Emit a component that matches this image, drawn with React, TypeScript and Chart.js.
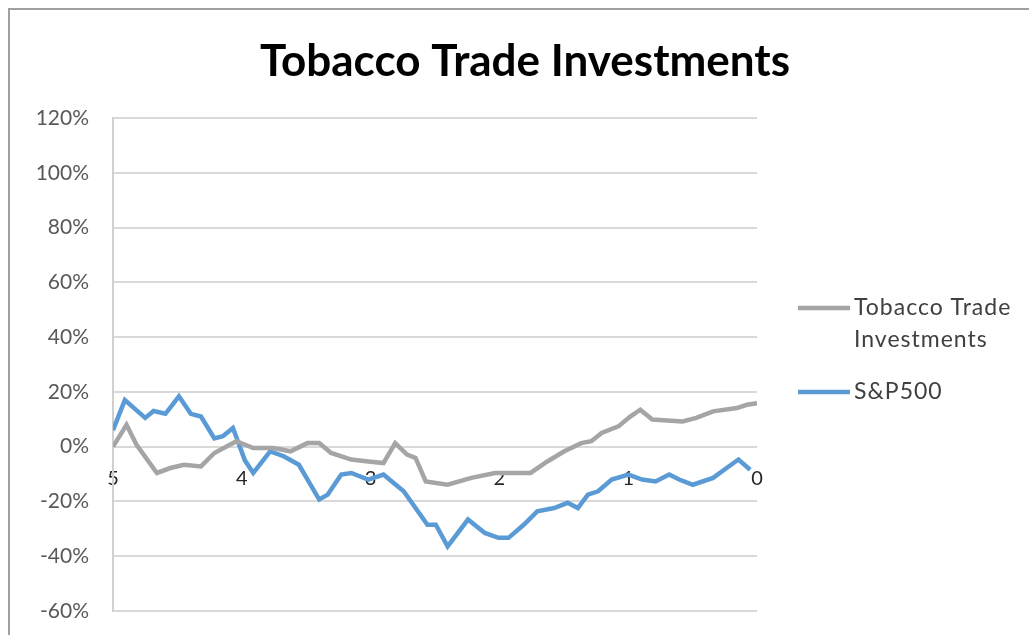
import React, { useEffect, useRef } from "react";
import { Chart, registerables } from "chart.js";

Chart.register(...registerables);

const chartTitle = "Tobacco Trade Investments";
const seriesNames = ["Tobacco Trade Investments", "S&P500"];
const legendLines = [["Tobacco Trade", "Investments"], ["S&P500"]];
const seriesColors = ["#a5a5a5", "#5b9bd5"];

const xTickValues = [5, 4, 3, 2, 1, 0];
const yMin = -60;
const yMax = 120;
const yStep = 20;

const tobaccoX = [5.0, 4.895, 4.817, 4.659, 4.554, 4.449, 4.317, 4.213, 4.042, 3.911, 3.754, 3.622, 3.491, 3.399, 3.307, 3.15, 3.018, 2.9, 2.809, 2.717, 2.651, 2.572, 2.402, 2.218, 2.034, 1.758, 1.628, 1.496, 1.365, 1.286, 1.207, 1.076, 0.984, 0.906, 0.813, 0.577, 0.472, 0.341, 0.157, 0.079, 0.0];
const tobaccoY = [0, 8, 0.7, -9.6, -7.8, -6.6, -7.2, -2.3, 2, -0.5, -0.5, -1.7, 1.3, 1.3, -2.3, -4.7, -5.4, -6, 1.3, -2.9, -4.1, -12.7, -13.9, -11.4, -9.6, -9.6, -5.4, -1.7, 1.3, 2, 5, 7.4, 11, 13.5, 9.9, 9.2, 10.5, 12.9, 14.1, 15.3, 15.9];

const spX = [5.0, 4.908, 4.75, 4.685, 4.593, 4.488, 4.396, 4.317, 4.213, 4.147, 4.069, 3.976, 3.911, 3.78, 3.675, 3.557, 3.399, 3.333, 3.228, 3.15, 3.018, 2.9, 2.821, 2.743, 2.651, 2.559, 2.494, 2.402, 2.244, 2.113, 2.008, 1.929, 1.811, 1.706, 1.575, 1.47, 1.391, 1.313, 1.234, 1.128, 0.998, 0.892, 0.787, 0.682, 0.604, 0.498, 0.341, 0.236, 0.144, 0.053];
const spY = [6, 17, 10.5, 13, 12, 18.4, 12, 11, 3, 3.8, 6.8, -5, -9.6, -1.7, -3.5, -6.6, -19.3, -17.5, -10.2, -9.6, -12, -10.2, -13.3, -16.3, -22.4, -28.5, -28.5, -36.4, -26.6, -31.5, -33.3, -33.3, -28.5, -23.6, -22.4, -20.5, -22.4, -17.5, -16.3, -12, -10.2, -12, -12.7, -10.2, -12, -13.9, -11.4, -7.8, -4.7, -8.4];

const FONT = "Lato, 'Open Sans', sans-serif";
const CANVAS_W = 1019;
const CANVAS_H = 625;

const titleAndLegend = {
  id: "titleAndLegend",
  afterDraw(chart: any) {
    const ctx = chart.ctx as CanvasRenderingContext2D;
    const area = chart.chartArea;
    ctx.save();
    // title
    ctx.font = `bold 44px ${FONT}`;
    ctx.fillStyle = "#000000";
    ctx.textAlign = "center";
    ctx.textBaseline = "middle";
    ctx.fillText(chartTitle, 515, 52);
    // legend
    const x0 = area.right + 41;
    const lineLen = 52;
    const rowTops = [area.top + 190, area.top + 274];
    const lineH = 32;
    ctx.font = `23px ${FONT}`;
    (ctx as any).letterSpacing = "1px";
    ctx.textAlign = "left";
    legendLines.forEach((lines, i) => {
      const y = rowTops[i];
      ctx.strokeStyle = seriesColors[i];
      ctx.lineWidth = 4.5;
      ctx.beginPath();
      ctx.moveTo(x0, y);
      ctx.lineTo(x0 + lineLen, y);
      ctx.stroke();
      ctx.fillStyle = "#404040";
      lines.forEach((t, j) => ctx.fillText(t, x0 + lineLen + 4, y + j * lineH));
    });
    ctx.restore();
  },
};

export default function App() {
  const ref = useRef<HTMLCanvasElement | null>(null);
  useEffect(() => {
    if (!ref.current) return;
    const chart = new Chart(ref.current, {
      type: "line",
      data: {
        datasets: [
          {
            label: seriesNames[0],
            data: tobaccoX.map((x, i) => ({ x, y: tobaccoY[i] })),
            borderColor: seriesColors[0],
            backgroundColor: seriesColors[0],
            borderWidth: 4.5,
            pointRadius: 0,
            tension: 0,
          },
          {
            label: seriesNames[1],
            data: spX.map((x, i) => ({ x, y: spY[i] })),
            borderColor: seriesColors[1],
            backgroundColor: seriesColors[1],
            borderWidth: 4.5,
            pointRadius: 0,
            tension: 0,
          },
        ],
      },
      options: {
        responsive: false,
        animation: false,
        layout: { padding: { top: 108, left: 0, right: 272, bottom: 24 } },
        plugins: {
          legend: { display: false },
          tooltip: { enabled: false },
          title: { display: false },
        },
        scales: {
          x: {
            type: "linear",
            reverse: true,
            min: 0,
            max: 5,
            position: { y: 0 } as any,
            afterFit: (s: any) => {
              s.height = 0;
              s.paddingLeft = 0;
              s.paddingRight = 0;
              s.paddingTop = 0;
              s.paddingBottom = 0;
            },
            afterBuildTicks: (s: any) => {
              s.ticks = xTickValues.map((v) => ({ value: v }));
            },
            grid: { display: false, drawTicks: false },
            border: { display: false },
            ticks: {
              color: "#262626",
              font: { family: FONT, size: 20 },
              padding: 20,
              maxRotation: 0,
              autoSkip: false,
            },
          },
          y: {
            min: yMin,
            max: yMax,
            afterFit: (s: any) => {
              s.width = 103;
              s.paddingTop = 0;
              s.paddingBottom = 0;
            },
            grid: { color: "#d9d9d9", lineWidth: 2, drawTicks: false },
            border: { display: true, color: "#d0d0d0", width: 2 },
            ticks: {
              stepSize: yStep,
              color: "#595959",
              font: { family: FONT, size: 21 },
              padding: 24,
              callback: (v: any) => `${v}%`,
            },
          },
        },
      },
      plugins: [titleAndLegend],
    });
    return () => chart.destroy();
  }, []);

  return (
    <div
      style={{
        position: "fixed",
        left: 8,
        top: 8,
        borderTop: "2px solid #a0a0a0",
        borderLeft: "2px solid #a0a0a0",
        width: CANVAS_W,
        height: CANVAS_H,
        background: "#ffffff",
      }}
    >
      <canvas ref={ref} width={CANVAS_W} height={CANVAS_H} style={{ display: "block" }} />
    </div>
  );
}
